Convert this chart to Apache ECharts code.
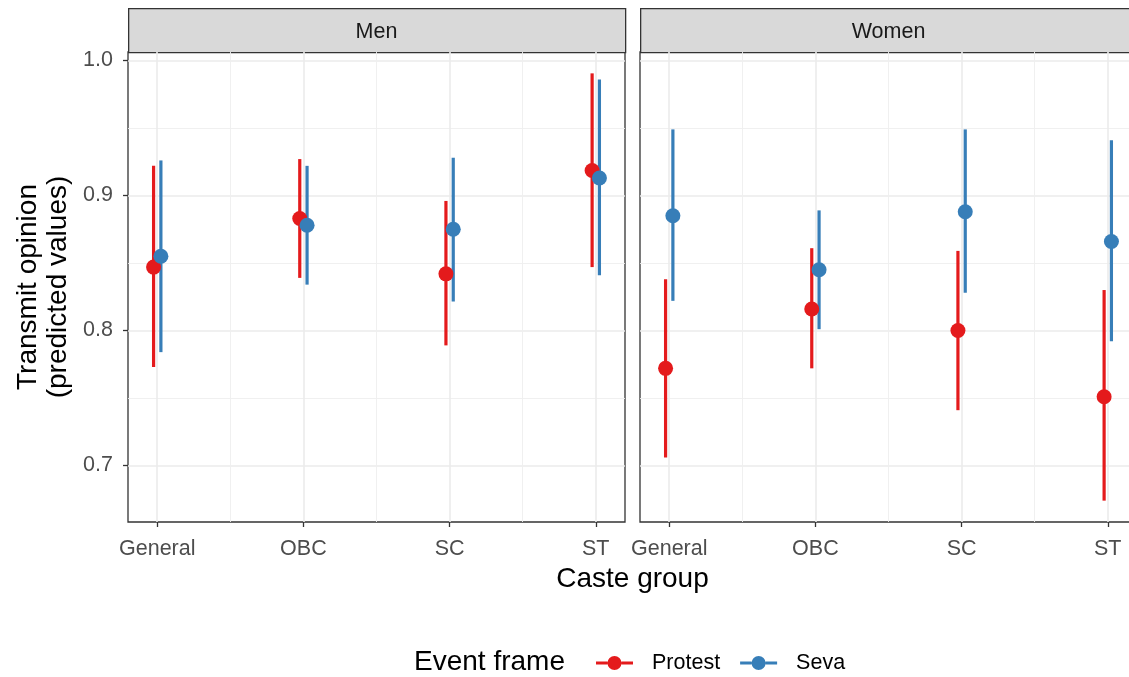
<!DOCTYPE html>
<html>
<head>
<meta charset="utf-8">
<script src="https://cdn.jsdelivr.net/npm/echarts@6/dist/echarts.min.js"></script>
<style>
html,body{margin:0;padding:0;background:#fff;overflow:hidden;}
#chart{width:1137px;height:677px;}
</style>
</head>
<body>
<div id="chart"></div>
<script>
// ---- data ----
const categories = ['General', 'OBC', 'SC', 'ST'];
const panels = ['Men', 'Women'];
const frames = ['Protest', 'Seva'];

const menProtestEst = [0.847, 0.883, 0.842, 0.9185];
const menProtestLo  = [0.773, 0.839, 0.789, 0.847];
const menProtestHi  = [0.922, 0.927, 0.896, 0.9905];
const menSevaEst    = [0.855, 0.878, 0.875, 0.913];
const menSevaLo     = [0.784, 0.834, 0.8215, 0.841];
const menSevaHi     = [0.926, 0.922, 0.928, 0.986];

const womenProtestEst = [0.772, 0.816, 0.800, 0.751];
const womenProtestLo  = [0.706, 0.772, 0.741, 0.674];
const womenProtestHi  = [0.838, 0.861, 0.859, 0.830];
const womenSevaEst    = [0.885, 0.845, 0.888, 0.866];
const womenSevaLo     = [0.822, 0.801, 0.828, 0.792];
const womenSevaHi     = [0.949, 0.889, 0.949, 0.941];

const yTicks = [0.7, 0.8, 0.9, 1.0];
const yMinorTicks = [0.75, 0.85, 0.95];
const xMinorTicks = [1.5, 2.5, 3.5];

const xAxisTitle = 'Caste group';
const yAxisTitle = 'Transmit opinion\n(predicted values)';
const legendTitle = 'Event frame';

// ---- styling ----
const FONT = '"Liberation Sans", Arial, sans-serif';
const frameColors = {Protest: '#E41A1C', Seva: '#377EB8'};
const dodge = 0.025;

const panelData = {
  Men: {
    Protest: {est: menProtestEst, lo: menProtestLo, hi: menProtestHi},
    Seva: {est: menSevaEst, lo: menSevaLo, hi: menSevaHi}
  },
  Women: {
    Protest: {est: womenProtestEst, lo: womenProtestLo, hi: womenProtestHi},
    Seva: {est: womenSevaEst, lo: womenSevaLo, hi: womenSevaHi}
  }
};

// y range like ggplot (5% expansion)
const allLo = [].concat(menProtestLo, menSevaLo, womenProtestLo, womenSevaLo);
const allHi = [].concat(menProtestHi, menSevaHi, womenProtestHi, womenSevaHi);
const dMin = Math.min.apply(null, allLo), dMax = Math.max.apply(null, allHi);
const yMin = dMin - 0.05 * (dMax - dMin);
const yMax = dMax + 0.05 * (dMax - dMin);
const xMin = 0.8, xMax = categories.length + 0.2;

const gridTop = 52, gridH = 470, gridW = 497;
const gridLefts = [128, 640];

const grids = gridLefts.map(l => ({
  left: l, top: gridTop, width: gridW, height: gridH,
  show: true, borderColor: '#333333', borderWidth: 1.3, backgroundColor: 'transparent'
}));

const xAxes = [], yAxes = [];
panels.forEach((p, gi) => {
  xAxes.push({
    type: 'value', gridIndex: gi, min: xMin, max: xMax,
    axisLine: {show: false},
    axisTick: {show: true, customValues: categories.map((c, i) => i + 1), length: 5, lineStyle: {color: '#333333', width: 1.3}},
    axisLabel: {show: true, customValues: categories.map((c, i) => i + 1), margin: 16,
      formatter: v => categories[Math.round(v) - 1] || '', color: '#4D4D4D', fontSize: 21.5, fontFamily: FONT},
    splitLine: {show: true, lineStyle: {color: '#EBEBEB', width: 1.6}}
  });
  xAxes.push({
    type: 'value', gridIndex: gi, min: xMin, max: xMax,
    axisLine: {show: false},
    axisTick: {show: false, customValues: xMinorTicks},
    axisLabel: {show: false, customValues: xMinorTicks},
    splitLine: {show: true, lineStyle: {color: '#EEEEEE', width: 0.9}}
  });
  yAxes.push({
    type: 'value', gridIndex: gi, min: yMin, max: yMax,
    axisLine: {show: false},
    axisTick: {show: gi === 0, customValues: yTicks, length: 5, lineStyle: {color: '#333333', width: 1.3}},
    axisLabel: {show: gi === 0, customValues: yTicks, margin: 15,
      formatter: v => v.toFixed(1), color: '#4D4D4D', fontSize: 21.5, fontFamily: FONT},
    splitLine: {show: true, lineStyle: {color: '#EBEBEB', width: 1.6}},
    name: gi === 0 ? yAxisTitle : '',
    nameLocation: 'middle', nameRotate: 90, nameGap: 55,
    nameTextStyle: {color: '#000', fontSize: 28, fontFamily: FONT, lineHeight: 30}
  });
  yAxes.push({
    type: 'value', gridIndex: gi, min: yMin, max: yMax,
    axisLine: {show: false},
    axisTick: {show: false, customValues: yMinorTicks},
    axisLabel: {show: false, customValues: yMinorTicks},
    splitLine: {show: true, lineStyle: {color: '#EEEEEE', width: 0.9}}
  });
});

const series = [];
panels.forEach((p, gi) => {
  frames.forEach((f, fi) => {
    const d = panelData[p][f];
    const off = fi === 0 ? -dodge : dodge;
    const color = frameColors[f];
    series.push({
      type: 'custom', name: f, xAxisIndex: gi * 2, yAxisIndex: gi * 2,
      data: categories.map((c, i) => [i + 1 + off, d.lo[i], d.hi[i]]),
      encode: {x: 0, y: [1, 2]},
      itemStyle: {color: color},
      renderItem: (params, api) => {
        const a = api.coord([api.value(0), api.value(1)]);
        const b = api.coord([api.value(0), api.value(2)]);
        return {type: 'line', shape: {x1: a[0], y1: a[1], x2: b[0], y2: b[1]},
          style: {stroke: color, lineWidth: 3.2}};
      },
      silent: true
    });
    series.push({
      type: 'scatter', name: f, xAxisIndex: gi * 2, yAxisIndex: gi * 2,
      data: categories.map((c, i) => [i + 1 + off, d.est[i]]),
      symbol: 'circle', symbolSize: 15,
      itemStyle: {color: color, opacity: 1},
      silent: true
    });
  });
});

const legendIcon = 'path://M0,5.5L11.6,5.5L11.6,8.5L0,8.5Z M25.4,5.5L37,5.5L37,8.5L25.4,8.5Z M11.5,7A7,7 0 1,0 25.5,7A7,7 0 1,0 11.5,7Z';

const graphics = [];
panels.forEach((p, gi) => {
  graphics.push({
    type: 'rect', left: gridLefts[gi], top: 8,
    shape: {width: gridW, height: gridTop - 8},
    style: {fill: '#D9D9D9', stroke: '#333333', lineWidth: 1.3}
  });
  graphics.push({
    type: 'text', x: gridLefts[gi] + gridW / 2, y: 8 + (gridTop - 8) / 2 + 2,
    style: {text: p, fill: '#1A1A1A', font: '21.5px ' + FONT, textAlign: 'center', textVerticalAlign: 'middle'}
  });
});
graphics.push({
  type: 'text', x: (gridLefts[0] + gridLefts[1] + gridW) / 2, y: 579,
  style: {text: xAxisTitle, fill: '#000', font: '28px ' + FONT, textAlign: 'center', textVerticalAlign: 'middle'}
});
graphics.push({
  type: 'text', x: 414, y: 662,
  style: {text: legendTitle, fill: '#000', font: '28px ' + FONT, textAlign: 'left', textVerticalAlign: 'middle'}
});

const chart = echarts.init(document.getElementById('chart'), null, {renderer: 'canvas'});
chart.setOption({
  animation: false,
  backgroundColor: '#ffffff',
  grid: grids,
  xAxis: xAxes,
  yAxis: yAxes,
  legend: {
    data: frames.map(f => ({name: f, icon: legendIcon, itemStyle: {color: frameColors[f]}})),
    left: 591, top: 647, itemWidth: 37, itemHeight: 14, itemGap: 20,
    textStyle: {color: '#000', fontSize: 21.5, fontFamily: FONT, padding: [0, 0, 0, 14]},
    selectedMode: false
  },
  series: series,
  graphic: graphics
});
</script>
</body>
</html>
